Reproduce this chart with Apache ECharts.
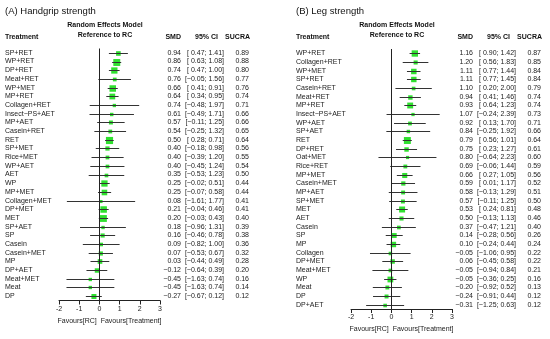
<!DOCTYPE html>
<html><head><meta charset="utf-8">
<script src="https://cdn.jsdelivr.net/npm/echarts@6/dist/echarts.min.js"></script>
<style>html,body{margin:0;padding:0;background:#fff}#c{width:550px;height:339px}</style>
</head><body><div id="c"></div>
<script>
// ---------- Panel A: Handgrip strength ----------
const treatA = ['SP+RET','WP+RET','DP+RET','Meat+RET','WP+MET','MP+RET','Collagen+RET','Insect\u2212PS+AET','MP+AET','Casein+RET','RET','SP+MET','Rice+MET','WP+AET','AET','WP','MP+MET','Collagen+MET','DP+MET','MET','SP+AET','SP','Casein','Casein+MET','MP','DP+AET','Meat+MET','Meat','DP'];
const smdA   = [0.94,0.86,0.74,0.76,0.66,0.64,0.74,0.61,0.57,0.54,0.50,0.40,0.40,0.40,0.35,0.25,0.25,0.08,0.21,0.20,0.18,0.16,0.09,0.07,0.03,-0.12,-0.45,-0.45,-0.27];
const lowA   = [0.47,0.63,0.47,-0.05,0.41,0.34,-0.48,-0.49,-0.11,-0.25,0.28,-0.18,-0.39,-0.45,-0.53,-0.02,-0.07,-1.61,-0.04,-0.03,-0.96,-0.46,-0.82,-0.53,-0.44,-0.64,-1.63,-1.63,-0.67];
const highA  = [1.41,1.08,1.00,1.56,0.91,0.95,1.97,1.71,1.25,1.32,0.71,0.98,1.20,1.24,1.23,0.51,0.58,1.77,0.46,0.43,1.31,0.78,1.00,0.67,0.49,0.39,0.74,0.74,0.12];
const sucraA = [0.89,0.88,0.80,0.77,0.76,0.74,0.71,0.66,0.66,0.65,0.64,0.56,0.55,0.54,0.50,0.44,0.44,0.41,0.41,0.40,0.39,0.38,0.36,0.32,0.28,0.20,0.16,0.14,0.12];

// ---------- Panel B: Leg strength ----------
const treatB = ['WP+RET','Collagen+RET','WP+MET','SP+RET','Casein+RET','Meat+RET','MP+RET','Insect\u2212PS+AET','WP+AET','SP+AET','RET','DP+RET','Oat+MET','Rice+RET','MP+MET','Casein+MET','MP+AET','SP+MET','MET','AET','Casein','SP','MP','Collagen','DP+MET','Meat+MET','WP','Meat','DP','DP+AET'];
const smdB   = [1.16,1.20,1.11,1.11,1.10,0.94,0.93,1.07,0.92,0.84,0.79,0.75,0.80,0.69,0.66,0.59,0.58,0.57,0.53,0.50,0.37,0.14,0.10,-0.05,0.06,-0.05,-0.05,-0.20,-0.24,-0.31];
const lowB   = [0.90,0.56,0.77,0.77,0.20,0.41,0.64,-0.24,0.13,-0.25,0.56,0.23,-0.64,-0.06,0.27,0.01,-0.13,-0.11,0.24,-0.13,-0.47,-0.28,-0.24,-1.06,-0.45,-0.94,-0.36,-0.92,-0.91,-1.25];
const highB  = [1.42,1.83,1.44,1.45,2.00,1.46,1.23,2.39,1.70,1.92,1.01,1.27,2.23,1.44,1.05,1.17,1.29,1.25,0.81,1.13,1.21,0.56,0.44,0.95,0.58,0.84,0.25,0.52,0.44,0.63];
const sucraB = [0.87,0.85,0.84,0.84,0.79,0.74,0.74,0.73,0.71,0.66,0.64,0.61,0.60,0.59,0.56,0.52,0.51,0.50,0.48,0.46,0.40,0.26,0.24,0.22,0.22,0.21,0.16,0.13,0.12,0.12];

const xTicks = [-2, -1, 0, 1, 2, 3];

const FF = '"Liberation Sans", Arial, Helvetica, sans-serif';
const FS = 7;

function fmt(v){ return (v < 0 ? '\u2212' : '') + Math.abs(v).toFixed(2); }
function ciText(l, h){ return '[' + (l >= 0 ? ' ' : '') + fmt(l) + '; ' + fmt(h) + ']'; }

const panels = [
  {treat: treatA, smd: smdA, low: lowA, high: highA, sucra: sucraA, title: '(A) Handgrip strength',
   grid: {left: 59, top: 48.5, width: 101, height: 252}, labelX: 5},
  {treat: treatB, smd: smdB, low: lowB, high: highB, sucra: sucraB, title: '(B) Leg strength',
   grid: {left: 351, top: 49, width: 101, height: 260}, labelX: 296}
];

function renderForest(params, api){
  const cat = api.value(0), est = api.value(1), lo = api.value(2), hi = api.value(3);
  const pLo = api.coord([lo, cat]), pHi = api.coord([hi, cat]), pE = api.coord([est, cat]);
  const s = Math.min(8, 2.5 + 2 / (hi - lo));
  const y = Math.round(pE[1]) + 0.5;
  return {type: 'group', children: [
    {type: 'rect', shape: {x: pE[0] - s / 2, y: y - s / 2, width: s, height: s}, style: {fill: '#2fe02f'}},
    {type: 'line', shape: {x1: pLo[0], y1: y, x2: pHi[0], y2: y}, style: {stroke: '#333', lineWidth: 1}}
  ]};
}

const grids = [], xAxes = [], yAxes = [], series = [], graphics = [];

panels.forEach((p, gi) => {
  grids.push(Object.assign({containLabel: false}, p.grid));
  xAxes.push({
    type: 'value', gridIndex: gi, min: xTicks[0], max: xTicks[xTicks.length - 1], interval: 1,
    axisLine: {show: true, onZero: false, lineStyle: {color: '#222', width: 1}},
    axisTick: {show: true, length: 4, lineStyle: {color: '#222'}},
    splitLine: {show: false},
    axisLabel: {fontSize: FS, fontFamily: FF, color: '#222', margin: 5,
      formatter: v => (v < 0 ? '-' : '') + Math.abs(v)},
    name: 'Favours[RC]  Favours[Treatment]', nameLocation: 'middle', nameGap: 14,
    nameTextStyle: {fontSize: FS, fontFamily: FF, color: '#222'}
  });
  const base = yAxes.length;
  const mk = (pos, margin, align, formatter) => ({
    type: 'category', gridIndex: gi, data: p.treat, inverse: true, position: pos,
    axisLine: {show: false}, axisTick: {show: false}, splitLine: {show: false},
    axisLabel: {interval: 0, margin, align, fontSize: FS, fontFamily: FF, color: '#222', formatter}
  });
  yAxes.push(mk('left', p.grid.left - p.labelX, 'left', v => v));
  yAxes.push(mk('right', 21, 'right', (v, i) => fmt(p.smd[i])));
  yAxes.push(mk('right', 64, 'right', (v, i) => ciText(p.low[i], p.high[i])));
  yAxes.push(mk('right', 89, 'right', (v, i) => p.sucra[i].toFixed(2)));

  series.push({
    type: 'custom', xAxisIndex: gi, yAxisIndex: base, renderItem: renderForest,
    encode: {x: [1, 2, 3], y: 0}, silent: true, animation: false,
    data: p.treat.map((t, i) => [i, p.smd[i], p.low[i], p.high[i]]),
    markLine: {silent: true, symbol: ['none', 'none'], label: {show: false}, animation: false,
      lineStyle: {color: '#222', width: 1, type: 'solid'}, data: [{xAxis: 0}]}
  });

  const gl = p.grid.left, gr = p.grid.left + p.grid.width;
  const t = (text, x, y, opt) => graphics.push({type: 'text', x, y, silent: true,
    style: Object.assign({text, fill: '#111', font: `${FS}px ${FF}`, align: 'left', verticalAlign: 'middle'}, opt || {})});
  t(p.title, p.labelX, 11, {font: `9.5px ${FF}`});
  t('Treatment', p.labelX, 37, {font: `bold ${FS}px ${FF}`});
  t('Random Effects Model', gl + 46, 25, {font: `bold ${FS}px ${FF}`, align: 'center'});
  t('Reference to RC', gl + 46, 35, {font: `bold ${FS}px ${FF}`, align: 'center'});
  t('SMD', gr + 21, 37, {font: `bold ${FS}px ${FF}`, align: 'right'});
  t('95% CI', gr + 58, 37, {font: `bold ${FS}px ${FF}`, align: 'right'});
  t('SUCRA', gr + 90, 37, {font: `bold ${FS}px ${FF}`, align: 'right'});
});

const chart = echarts.init(document.getElementById('c'), null, {renderer: 'canvas'});
chart.setOption({
  animation: false,
  backgroundColor: '#fff',
  grid: grids, xAxis: xAxes, yAxis: yAxes, series, graphic: graphics
});
</script>
</body></html>
